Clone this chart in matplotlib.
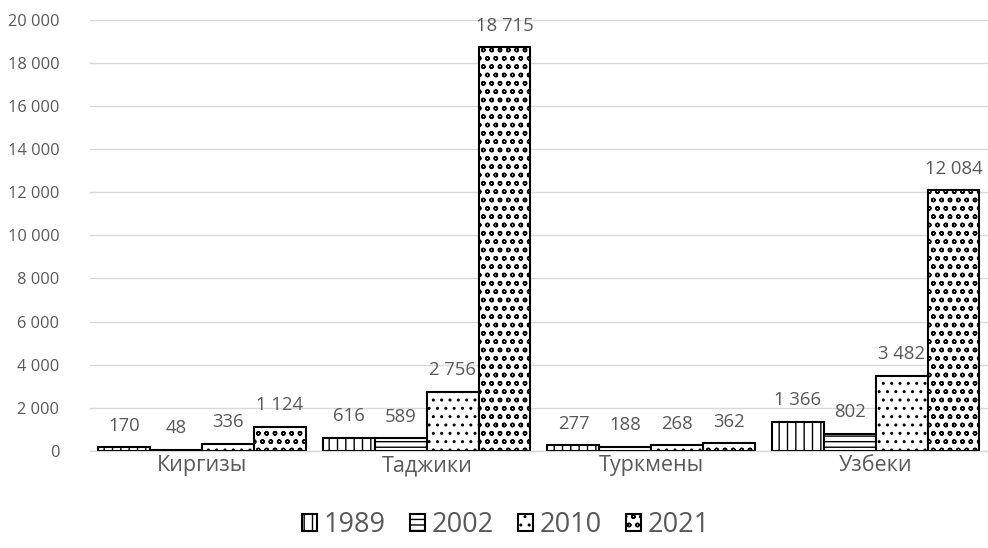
import numpy as np
import matplotlib
matplotlib.use("Agg")
import matplotlib.pyplot as plt

plt.rcParams['font.family'] = ['Open Sans', 'DejaVu Sans']
plt.rcParams['hatch.linewidth'] = 1.0

categories = ['Киргизы', 'Таджики', 'Туркмены', 'Узбеки']
years = ['1989', '2002', '2010', '2021']
v1989 = [170, 616, 277, 1366]
v2002 = [48, 589, 188, 802]
v2010 = [336, 2756, 268, 3482]
v2021 = [1124, 18715, 362, 12084]
series = [v1989, v2002, v2010, v2021]
hatches = ['||', '---', '..', 'oo']

text_col = '#595959'

def fmt(v):
    return f'{v:,}'.replace(',', ' ')

fig = plt.figure(figsize=(9.88, 5.48), dpi=100)
ax = fig.add_axes([0.091, 0.177, 0.909, 0.787])

x = np.arange(len(categories))
w = 0.231
for i, (vals, h, yr) in enumerate(zip(series, hatches, years)):
    pos = x + (i - 1.5) * w
    bars = ax.bar(pos, vals, w, color='white', edgecolor='black',
                  linewidth=1.5, hatch=h, label=yr, zorder=3)
    for b, v in zip(bars, vals):
        ax.annotate(fmt(v), (b.get_x() + b.get_width() / 2, v),
                    xytext=(0, 9), textcoords='offset points',
                    ha='center', va='bottom', fontsize=13.3, color=text_col)

ax.set_xlim(-0.5, 3.5)
ax.set_ylim(0, 20000)
ax.set_yticks(np.arange(0, 20001, 2000))
ax.set_yticklabels([fmt(t) for t in range(0, 20001, 2000)])
ax.set_xticks(x)
ax.set_xticklabels(categories)
ax.tick_params(axis='y', length=0, labelsize=11.8, labelcolor=text_col, pad=22)
ax.tick_params(axis='x', length=0, labelsize=15.5, labelcolor=text_col, pad=3)
ax.grid(axis='y', color='#d9d9d9', linewidth=1, zorder=0)
for s in ['top', 'right', 'left']:
    ax.spines[s].set_visible(False)
ax.spines['bottom'].set_color('#d9d9d9')
ax.spines['bottom'].set_linewidth(1)

leg = fig.legend(loc='lower center', bbox_to_anchor=(0.512, -0.028), ncol=4,
                 frameon=False, fontsize=19.5, handlelength=0.55, handleheight=0.6,
                 handletextpad=0.25, columnspacing=0.9)
for t in leg.get_texts():
    t.set_color(text_col)

fig.savefig('out.png', dpi=100)
